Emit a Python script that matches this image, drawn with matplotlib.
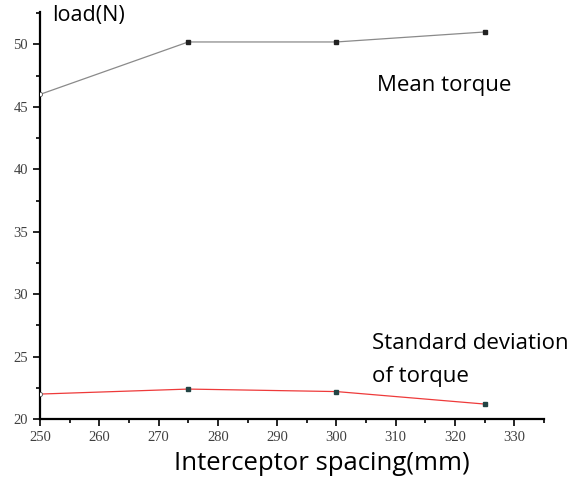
import matplotlib
matplotlib.use("Agg")
import matplotlib.pyplot as plt
from matplotlib.ticker import MultipleLocator

# interceptor spacing (mm) and torque loads (N)
spacing = [250, 275, 300, 325]
mean_torque = [46.0, 50.2, 50.2, 51.0]
std_torque = [22.0, 22.4, 22.2, 21.2]

x_ticks = [250, 260, 270, 280, 290, 300, 310, 320, 330]
y_ticks = [20, 25, 30, 35, 40, 45, 50]

LABEL_FONT = ["Open Sans", "DejaVu Sans"]
TICK_FONT = ["Liberation Serif", "DejaVu Serif"]

fig = plt.figure(figsize=(5.76, 4.8), dpi=100)
ax = fig.add_axes([0.0694, 0.127, 0.875, 0.848])

ax.plot(spacing, mean_torque, color="#8a8a8a", linewidth=0.9, zorder=2)
ax.plot(spacing[1:], mean_torque[1:], "s", color="#222222", markersize=3, zorder=3)
ax.plot(spacing[:1], mean_torque[:1], "o", mfc="white", mec="#555555",
        markersize=3, markeredgewidth=0.6, zorder=3)

ax.plot(spacing, std_torque, color="#ee3a3a", linewidth=0.9, zorder=2)
ax.plot(spacing[1:], std_torque[1:], "s", color="#224444", markersize=3, zorder=3)
ax.plot(spacing[:1], std_torque[:1], "o", mfc="white", mec="#555555",
        markersize=3, markeredgewidth=0.6, zorder=3)

ax.set_xlim(250, 335)
ax.set_ylim(20, 52.6)
ax.set_xticks(x_ticks)
ax.set_yticks(y_ticks)
ax.xaxis.set_minor_locator(MultipleLocator(5))
ax.yaxis.set_minor_locator(MultipleLocator(2.5))

for side in ("top", "right"):
    ax.spines[side].set_visible(False)
for side in ("left", "bottom"):
    ax.spines[side].set_linewidth(1.6)
    ax.spines[side].set_color("black")

ax.tick_params(which="major", direction="out", length=5, width=1.2,
               labelsize=10.5, labelcolor="#404040")
ax.tick_params(which="minor", direction="out", length=3, width=1.2)
for lab in ax.get_xticklabels() + ax.get_yticklabels():
    lab.set_family(TICK_FONT)

ax.set_xlabel("Interceptor spacing(mm)", family=LABEL_FONT, fontsize=18.5,
              labelpad=5, x=0.56)
fig.text(0.09, 0.99, "load(N)", family=LABEL_FONT, fontsize=15.5, va="top", ha="left")

ax.text(306.9, 46.7, "Mean torque", family=LABEL_FONT, fontsize=16, va="center")
ax.text(306.0, 24.75, "Standard deviation\nof torque", family=LABEL_FONT,
        fontsize=16, va="center", linespacing=1.75)

fig.savefig("out.png", dpi=100)
